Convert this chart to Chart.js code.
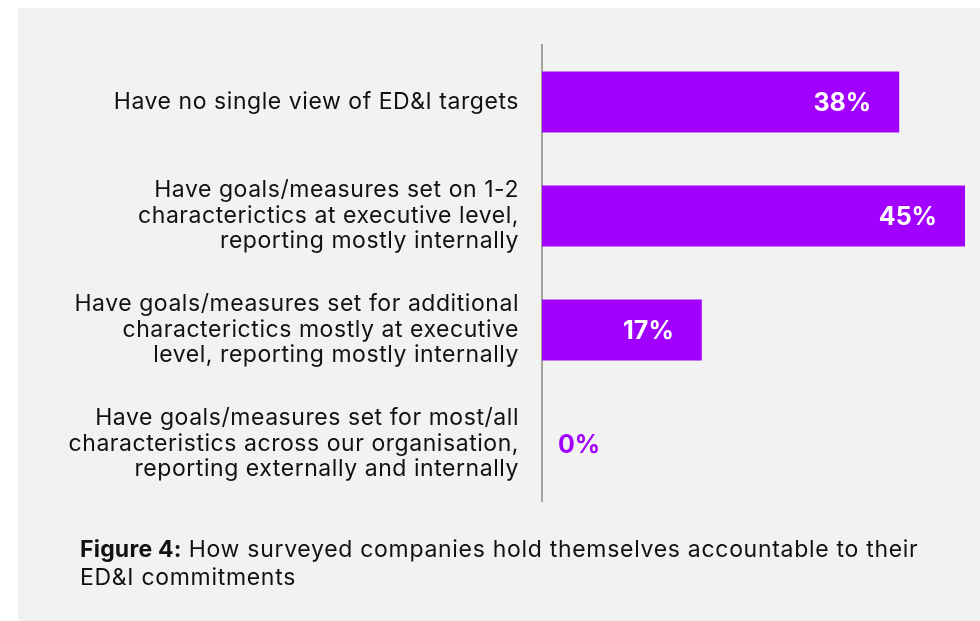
<!DOCTYPE html>
<html>
<head>
<meta charset="utf-8">
<script src="https://cdn.jsdelivr.net/npm/chart.js@4.4.1/dist/chart.umd.min.js"></script>
<style>
  html, body { margin: 0; padding: 0; background: #fff; }
  body { width: 980px; height: 621px; position: relative; overflow: hidden; font-family: Inter, "Noto Sans", sans-serif; }
  .panel { position: absolute; left: 18px; top: 8px; width: 962px; height: 613px; background: #f2f2f2; }
  #chart { position: absolute; left: 0; top: 0; }
  .caption { position: absolute; left: 80px; top: 535px; width: 890px; font-size: 23px; line-height: 28px; letter-spacing: 0.7px; color: #111; }
  .caption b { font-weight: 700; letter-spacing: 0.2px; }
</style>
</head>
<body>
<div class="panel"></div>
<canvas id="chart" width="980" height="621"></canvas>
<div class="caption"><b>Figure 4:</b> How surveyed companies hold themselves accountable to their<br>ED&amp;I commitments</div>
<script>
const categories = [
    ['Have no single view of ED&I targets'],
    ['Have goals/measures set on 1-2', 'characterictics at executive level,', 'reporting mostly internally'],
    ['Have goals/measures set for additional', 'characterictics mostly at executive', 'level, reporting mostly internally'],
    ['Have goals/measures set for most/all', 'characteristics across our organisation,', 'reporting externally and internally']
];
const shares = [38, 45, 17, 0];

const purple = '#a100ff';

// slightly looser tracking for the category labels
const tracking = {
    id: 'tracking',
    beforeDraw(chart) { chart.ctx.letterSpacing = '0.55px'; },
    beforeDatasetsDraw(chart) { chart.ctx.letterSpacing = '0px'; }
};

// percentage labels: white inside the bar, purple next to the axis when the bar is empty
const valueLabels = {
    id: 'valueLabels',
    afterDatasetsDraw(chart) {
        const ctx = chart.ctx;
        const meta = chart.getDatasetMeta(0);
        ctx.save();
        ctx.font = '700 25px Inter, sans-serif';
        ctx.textBaseline = 'middle';
        meta.data.forEach((bar, i) => {
            const v = shares[i];
            const txt = v + '%';
            if (v > 0) {
                ctx.fillStyle = '#fff';
                ctx.textAlign = 'right';
                ctx.fillText(txt, bar.x - 28, bar.y + 1);
            } else {
                ctx.fillStyle = purple;
                ctx.textAlign = 'left';
                ctx.fillText(txt, bar.base + 16, bar.y + 1);
            }
        });
        ctx.restore();
    }
};

new Chart(document.querySelector('#chart').getContext('2d'), {
    type: 'bar',
    data: {
        labels: categories,
        datasets: [{
            data: shares,
            backgroundColor: purple,
            borderWidth: 0,
            categoryPercentage: 1,
            barPercentage: 0.535
        }]
    },
    options: {
        indexAxis: 'y',
        responsive: false,
        animation: false,
        layout: { padding: { top: 45, bottom: 120, right: 15 } },
        plugins: { legend: { display: false }, tooltip: { enabled: false } },
        scales: {
            x: { display: false, min: 0, max: 45 },
            y: {
                afterFit(scale) {
                    scale.width = 542;
                    scale.paddingTop = 0;
                    scale.paddingBottom = 0;
                },
                grid: { display: false, drawTicks: false },
                border: { display: true, color: '#a3a39b', width: 2 },
                ticks: {
                    padding: 23,
                    color: '#111',
                    font: { family: 'Inter, sans-serif', size: 23, lineHeight: 1.11 }
                }
            }
        }
    },
    plugins: [tracking, valueLabels]
});
</script>
</body>
</html>
